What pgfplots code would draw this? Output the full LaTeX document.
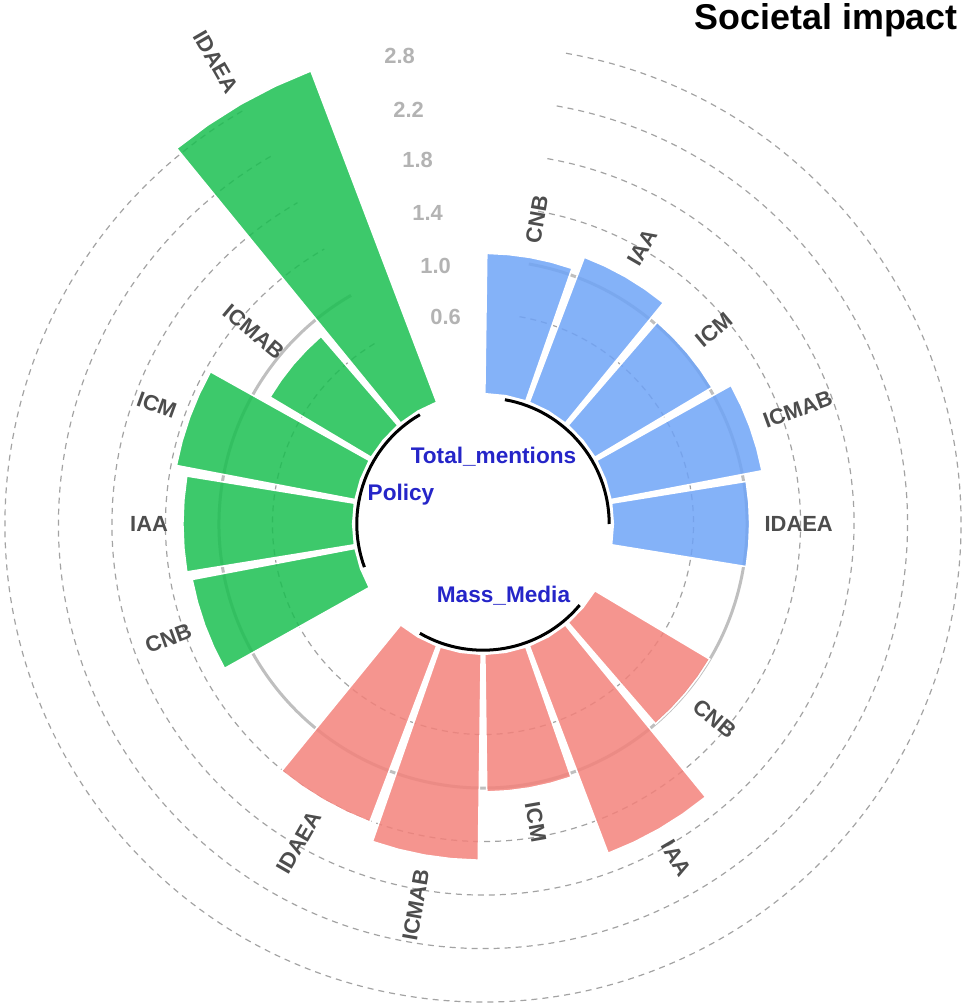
\documentclass[border=0pt]{standalone}
\usepackage{pgfplots}
\pgfplotsset{compat=1.18}
\usepackage{pgfplotstable}
\usepackage{fontspec}
\setmainfont{Liberation Sans}

\definecolor{cBlue}{HTML}{6FA4F7}
\definecolor{cRed}{HTML}{F3827B}
\definecolor{cGreen}{HTML}{1BBF51}
\definecolor{cLab}{HTML}{2525C8}
\definecolor{cTxt}{HTML}{4D4D4D}
\definecolor{cGridTxt}{HTML}{B3B3B3}
\definecolor{cGrid}{HTML}{A3A3A3}
\definecolor{cRef}{HTML}{BFBFBF}

% slot = position around the circle (18 slots, clockwise from 12 o'clock)
% group: 0 = Total_mentions, 1 = Mass_Media, 2 = Policy
\pgfplotstableread{
slot value group name
1  1.05 0 CNB
2  1.16 0 IAA
3  1.02 0 ICM
4  1.15 0 ICMAB
5  1.02 0 IDAEA
7  1.00 1 CNB
8  1.66 1 IAA
9  1.03 1 ICM
10 1.54 1 ICMAB
11 1.41 1 IDAEA
13 1.24 2 CNB
14 1.27 2 IAA
15 1.36 2 ICM
16 0.88 2 ICMAB
17 2.65 2 IDAEA
}\bardata

\def\hole{0.974}

\begin{document}
\begin{tikzpicture}
\begin{axis}[
  x=133.75bp, y=133.75bp,
  xmin=-3.6112, xmax=3.6037,
  ymin=-3.6187, ymax=3.9178,
  enlargelimits=false,
  axis line style={draw=none},
  xtick=\empty, ytick=\empty,
  clip=false,
]
\coordinate (bbsw) at (rel axis cs:0,0);
\coordinate (bbne) at (rel axis cs:1,1);
% grid arcs (dashed) from first bar centre clockwise to last bar centre
\pgfplotsinvokeforeach{210.5,317.5,371.0,424.5,478.0}{
  \draw[cGrid, line width=1.2bp, dash pattern=on 6bp off 5bp]
    (axis cs:{#1/133.75*cos(80)},{#1/133.75*sin(80)})
    arc[start angle=80, end angle=-240, radius=#1bp];
}
% reference circle at 1.0
\draw[cRef, line width=3bp]
  (axis cs:{264/133.75*cos(80)},{264/133.75*sin(80)})
  arc[start angle=80, end angle=-240, radius=264bp];

% bars
\pgfplotsinvokeforeach{0,...,14}{%
  \pgfplotstablegetelem{#1}{slot}\of{\bardata}\edef\myslot{\pgfplotsretval}%
  \pgfplotstablegetelem{#1}{value}\of{\bardata}\edef\myval{\pgfplotsretval}%
  \pgfplotstablegetelem{#1}{group}\of{\bardata}\edef\mygrp{\pgfplotsretval}%
  \pgfplotstablegetelem{#1}{name}\of{\bardata}\edef\myname{\pgfplotsretval}%
  \pgfmathsetmacro{\mytc}{100-20*\myslot}%
  \pgfmathsetmacro{\myta}{\mytc+9.2}%
  \pgfmathsetmacro{\mytab}{\mytc+4.6}%
  \pgfmathsetmacro{\mytbc}{\mytc-4.6}%
  \pgfmathsetmacro{\mytb}{\mytc-9.2}%
  \pgfmathsetmacro{\myr}{\myval+\hole}%
  \edef\mycol{\ifcase\mygrp cBlue\or cRed\else cGreen\fi}%
  \edef\mycmd{\noexpand\addplot[data cs=polar, fill=\mycol, fill opacity=0.85, draw=white, line width=1.6bp]
     coordinates {(\myta,\hole) (\myta,\myr) (\mytab,\myr) (\mytc,\myr) (\mytbc,\myr) (\mytb,\myr) (\mytb,\hole) (\mytc,\hole)} -- cycle;}%
  \mycmd
  \pgfmathsetmacro{\mylr}{\myr+0.11}%
  \pgfmathsetmacro{\mylx}{\mylr*cos(\mytc)}%
  \pgfmathsetmacro{\myly}{\mylr*sin(\mytc)}%
  \pgfmathtruncatemacro{\myright}{\mytc>-90 ? 1 : 0}%
  \ifnum\myright=1
    \edef\myrot{\mytc}\def\myanc{west}%
  \else
    \pgfmathsetmacro{\myrot}{\mytc+180}\def\myanc{east}%
  \fi
  \edef\mycmd{\noexpand\node[anchor=\myanc, rotate=\myrot, inner sep=0pt, text=cTxt,
     font=\noexpand\fontsize{22}{26}\noexpand\selectfont\noexpand\bfseries]
     at (axis cs:\mylx,\myly) {\myname};}%
  \mycmd
}

% group base lines
\draw[black, line width=3bp]
  (axis cs:{126.2/133.75*cos(80)},{126.2/133.75*sin(80)}) arc[start angle=80, end angle=0, radius=126.2bp];
\draw[black, line width=3bp]
  (axis cs:{126.2/133.75*cos(-40)},{126.2/133.75*sin(-40)}) arc[start angle=-40, end angle=-120, radius=126.2bp];
\draw[black, line width=3bp]
  (axis cs:{126.2/133.75*cos(-160)},{126.2/133.75*sin(-160)}) arc[start angle=-160, end angle=-240, radius=126.2bp];

% group names
\node[anchor=base, inner sep=0pt, text=cLab, font=\fontsize{22.7}{26}\selectfont\bfseries] at (axis cs:0.0785,0.4486) {Total\_mentions};
\node[anchor=base, inner sep=0pt, text=cLab, font=\fontsize{22.7}{26}\selectfont\bfseries] at (axis cs:-0.6131,0.1794) {Policy};
\node[anchor=base, inner sep=0pt, text=cLab, font=\fontsize{22.7}{26}\selectfont\bfseries] at (axis cs:0.1533,-0.5832) {Mass\_Media};

% grid value labels
\node[anchor=east, inner sep=0pt, text=cGridTxt, font=\fontsize{22}{26}\selectfont\bfseries] at (axis cs:-0.1645,1.5477) {0.6};
\node[anchor=east, inner sep=0pt, text=cGridTxt, font=\fontsize{22}{26}\selectfont\bfseries] at (axis cs:-0.2393,1.9327) {1.0};
\node[anchor=east, inner sep=0pt, text=cGridTxt, font=\fontsize{22}{26}\selectfont\bfseries] at (axis cs:-0.2991,2.3290) {1.4};
\node[anchor=east, inner sep=0pt, text=cGridTxt, font=\fontsize{22}{26}\selectfont\bfseries] at (axis cs:-0.3738,2.7215) {1.8};
\node[anchor=east, inner sep=0pt, text=cGridTxt, font=\fontsize{22}{26}\selectfont\bfseries] at (axis cs:-0.4411,3.0953) {2.2};
\node[anchor=east, inner sep=0pt, text=cGridTxt, font=\fontsize{22}{26}\selectfont\bfseries] at (axis cs:-0.5084,3.4991) {2.8};

% title
\node[anchor=base east, inner sep=0pt, font=\fontsize{36}{40}\selectfont\bfseries] at (axis cs:3.5514,3.7009) {Societal impact};
\end{axis}
\pgfresetboundingbox
\path (bbsw) rectangle (bbne);
\end{tikzpicture}
\end{document}
